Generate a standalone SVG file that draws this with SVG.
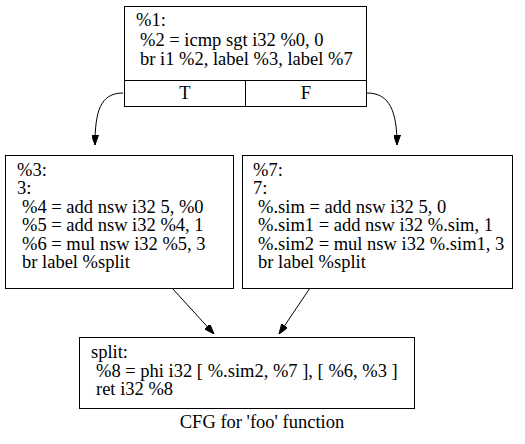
<svg xmlns="http://www.w3.org/2000/svg" width="525" height="444" viewBox="0 0 525 444">
<style>
.box{fill:#fff;stroke:#000;stroke-width:1}
text{font-family:"Liberation Serif","Times New Roman",serif;font-size:18.5px;fill:#000}
.edge{fill:none;stroke:#000;stroke-width:1}
</style>
<defs>
<marker id="ah" markerWidth="10" markerHeight="7" refX="10" refY="3.5" orient="auto" markerUnits="userSpaceOnUse">
<polygon points="0,0 10,3.5 0,7" fill="#000" stroke="#000"/>
</marker>
</defs>
<rect width="525" height="444" fill="#fff"/>
<g id="edges">
<path class="edge" d="M123,93 C100,93 95,112 95,145" marker-end="url(#ah)"/>
<path class="edge" d="M367,93 C390,93 397,112 397,145" marker-end="url(#ah)"/>
<path class="edge" d="M172,288 L214,334" marker-end="url(#ah)"/>
<path class="edge" d="M310,288 L279,334" marker-end="url(#ah)"/>
</g>
<g id="n1">
<rect class="box" x="124.5" y="6.5" width="242" height="100"/>
<line class="edge" x1="124.5" y1="80.5" x2="366.5" y2="80.5"/>
<line class="edge" x1="245.5" y1="80.5" x2="245.5" y2="106.5"/>
<text x="136" y="26">%1:</text>
<text x="140" y="45.5">%2 = icmp sgt i32 %0, 0</text>
<text x="140" y="65">br i1 %2, label %3, label %7</text>
<text x="185" y="99" text-anchor="middle">T</text>
<text x="306" y="99" text-anchor="middle">F</text>
</g>
<g id="n3">
<rect class="box" x="5.5" y="155.5" width="228" height="133"/>
<text x="17" y="175.5">%3:</text>
<text x="17" y="194">3:</text>
<text x="22" y="212.5">%4 = add nsw i32 5, %0</text>
<text x="22" y="231">%5 = add nsw i32 %4, 1</text>
<text x="22" y="249.5">%6 = mul nsw i32 %5, 3</text>
<text x="22" y="268">br label %split</text>
</g>
<g id="n7">
<rect class="box" x="242.5" y="155.5" width="270" height="133"/>
<text x="253" y="175.5">%7:</text>
<text x="253" y="194">7:</text>
<text x="258" y="212.5">%.sim = add nsw i32 5, 0</text>
<text x="258" y="231">%.sim1 = add nsw i32 %.sim, 1</text>
<text x="258" y="249.5">%.sim2 = mul nsw i32 %.sim1, 3</text>
<text x="258" y="268">br label %split</text>
</g>
<g id="split">
<rect class="box" x="79.5" y="337.5" width="335" height="71"/>
<text x="91" y="357.5">split:</text>
<text x="96" y="376.5">%8 = phi i32 [ %.sim2, %7 ], [ %6, %3 ]</text>
<text x="96" y="395">ret i32 %8</text>
</g>
<text x="262" y="428" text-anchor="middle">CFG for 'foo' function</text>
</svg>
